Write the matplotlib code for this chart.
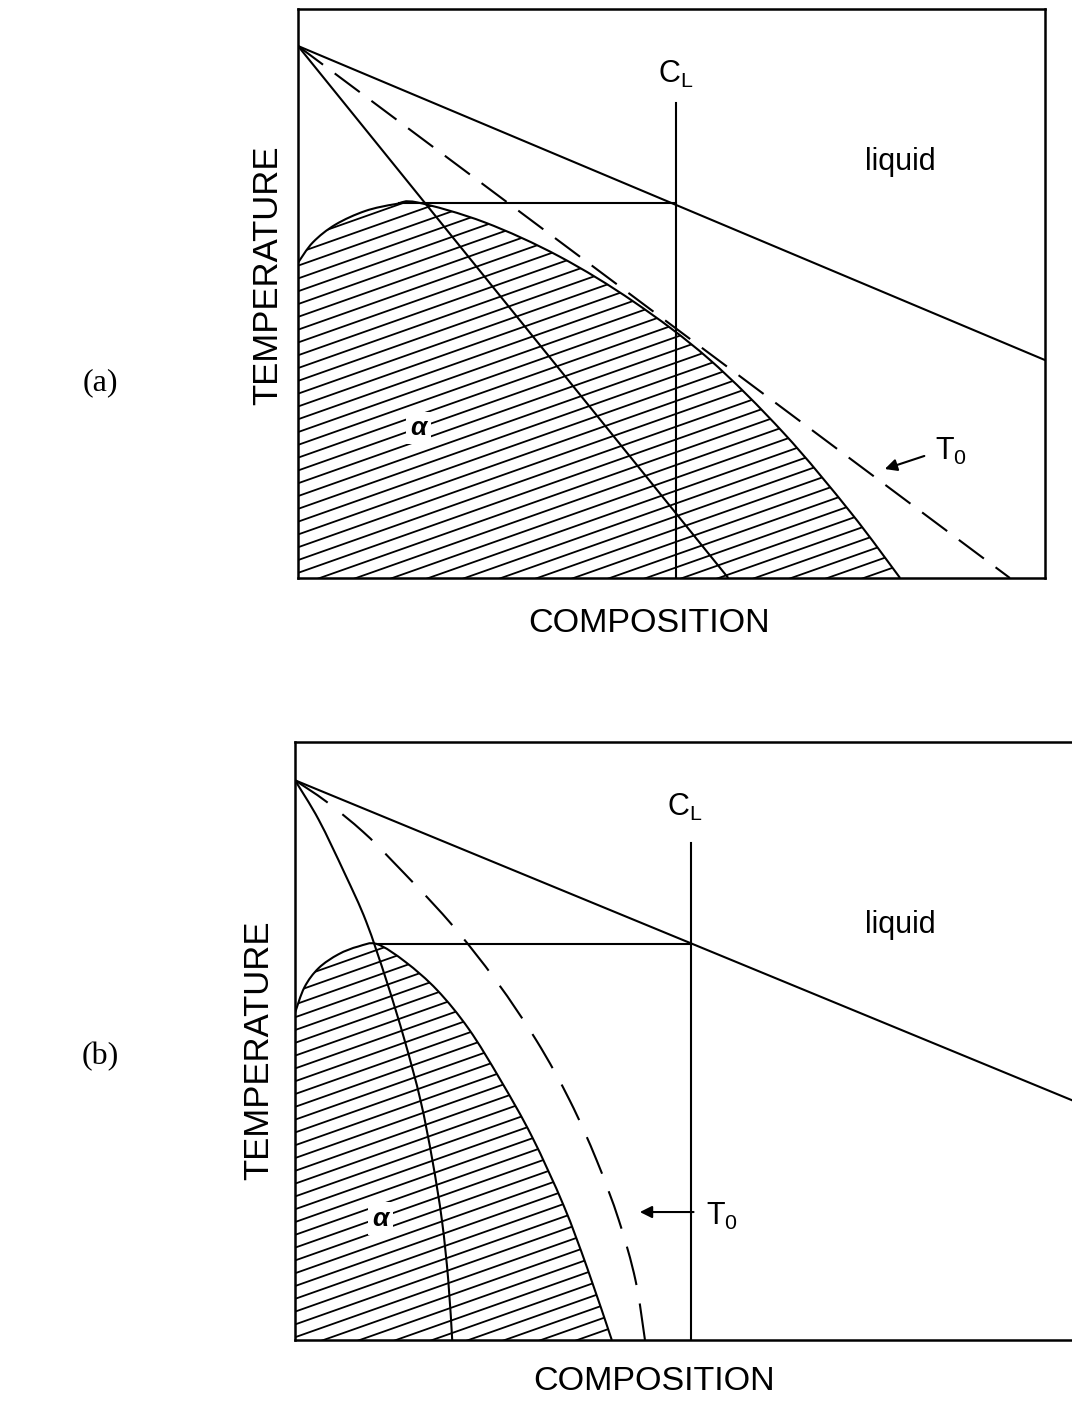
import numpy as np
import matplotlib
matplotlib.use("Agg")
import matplotlib.pyplot as plt
from matplotlib.patches import PathPatch
from matplotlib.path import Path
from matplotlib.collections import LineCollection

plt.rcParams['font.family'] = ['Liberation Sans', 'DejaVu Sans']
plt.rcParams['mathtext.fontset'] = 'custom'
plt.rcParams['mathtext.rm'] = 'Liberation Sans'
plt.rcParams['mathtext.it'] = 'Liberation Sans:italic'

W_PX, H_PX = 1072, 1404

# ---- panel (a) data (composition 0..1, temperature 0..1) ----
a_liquidus_x = [0.0, 1.0]
a_liquidus_y = [0.935, 0.383]
a_solidus_x = [0.0, 0.02, 0.05, 0.09, 0.13, 0.16, 0.25, 0.35, 0.45, 0.55, 0.65, 0.74, 0.806]
a_solidus_y = [0.554, 0.590, 0.621, 0.645, 0.657, 0.660, 0.625, 0.565, 0.485, 0.385,
               0.255, 0.115, 0.0]
a_inner_x = [0.0, 0.576]
a_inner_y = [0.935, 0.0]
a_t0_x = [0.0, 0.953]
a_t0_y = [0.935, 0.0]
a_cl = 0.506
a_cl_top = 0.835
a_tie_x = [0.135, 0.506]
a_tie_y = 0.659

# ---- panel (b) data ----
b_liquidus_x = [0.0, 1.0]
b_liquidus_y = [0.936, 0.392]
b_solidus_x = [0.0, 0.012, 0.03, 0.055, 0.08, 0.104, 0.14, 0.18, 0.22, 0.26, 0.30,
               0.34, 0.37, 0.401]
b_solidus_y = [0.547, 0.590, 0.622, 0.645, 0.658, 0.662, 0.632, 0.585, 0.520, 0.435,
               0.340, 0.225, 0.120, 0.0]
b_inner_x = [0.0, 0.030, 0.063, 0.090, 0.116, 0.139, 0.159, 0.174, 0.186, 0.194, 0.199]
b_inner_y = [0.936, 0.870, 0.780, 0.700, 0.600, 0.500, 0.400, 0.300, 0.200, 0.100, 0.0]
b_t0_x = [0.0, 0.040, 0.086, 0.124, 0.195, 0.255, 0.306, 0.348, 0.382, 0.410, 0.431, 0.443]
b_t0_y = [0.936, 0.900, 0.850, 0.800, 0.700, 0.600, 0.500, 0.400, 0.300, 0.200, 0.100, 0.0]
b_cl = 0.501
b_cl_top = 0.831
b_tie_x = [0.104, 0.501]
b_tie_y = 0.662

LW = 1.5


def smooth_path(xs, ys, close_origin=False):
    # catmull-rom through the read points, drawn as bezier segments
    pts = np.column_stack([xs, ys])
    verts = [pts[0]]
    codes = [Path.MOVETO]
    n = len(pts)
    for i in range(n - 1):
        p0 = pts[i - 1] if i > 0 else pts[i]
        p1 = pts[i]
        p2 = pts[i + 1]
        p3 = pts[i + 2] if i + 2 < n else pts[i + 1]
        verts += [p1 + (p2 - p0) / 6, p2 - (p3 - p1) / 6, p2]
        codes += [Path.CURVE4] * 3
    if close_origin:
        verts += [(0, 0), (0, 0)]
        codes += [Path.LINETO, Path.CLOSEPOLY]
    return Path(verts, codes)


def curve(ax, xs, ys, dashes=None):
    ls = '-' if dashes is None else (0, dashes)
    ax.add_patch(PathPatch(smooth_path(xs, ys), fill=False, ec='black', lw=LW,
                           linestyle=ls, zorder=3, capstyle='butt'))


def hatch(ax, sx, sy, w_px, h_px):
    # shallow diagonal hatch clipped to the alpha field
    clip = PathPatch(smooth_path(sx, sy, close_origin=True), fc='none', ec='none',
                     transform=ax.transData)
    ax.add_patch(clip)
    slope = 0.353 * w_px / h_px
    step = 12.8 / h_px
    segs = [[(0, c), (1, c + slope)] for c in np.arange(-slope, 1.0, step)]
    lc = LineCollection(segs, colors='black', linewidths=1.3, zorder=2)
    ax.add_collection(lc)
    lc.set_clip_path(clip)


def panel(rect, w_px, h_px, liq_x, liq_y, sol_x, sol_y, in_x, in_y, t0_x, t0_y,
          cl, cl_top, tie_x, tie_y, dashes):
    ax = fig.add_axes(rect)
    ax.set_xlim(0, 1)
    ax.set_ylim(0, 1)
    ax.set_xticks([])
    ax.set_yticks([])
    for s in ax.spines.values():
        s.set_linewidth(1.8)
    hatch(ax, sol_x, sol_y, w_px, h_px)
    ax.plot(liq_x, liq_y, color='black', lw=LW, zorder=3)
    curve(ax, sol_x, sol_y)
    curve(ax, in_x, in_y)
    curve(ax, t0_x, t0_y, dashes)
    ax.plot([cl, cl], [0, cl_top], color='black', lw=LW, zorder=3)
    ax.plot(tie_x, [tie_y, tie_y], color='black', lw=LW, zorder=3)
    return ax


fig = plt.figure(figsize=(W_PX / 100, H_PX / 100), dpi=100)

# panel (a): box 298..1045 x 9..578 px
ax1 = panel([298 / W_PX, 1 - 578 / H_PX, 747 / W_PX, 569 / H_PX], 747, 569,
            a_liquidus_x, a_liquidus_y, a_solidus_x, a_solidus_y, a_inner_x, a_inner_y,
            a_t0_x, a_t0_y, a_cl, a_cl_top, a_tie_x, a_tie_y, (15, 7))
ax1.text(0.506, 0.885, r'C$_\mathrm{L}$', fontsize=22, ha='center', va='center')
ax1.text(0.806, 0.731, 'liquid', fontsize=22, ha='center', va='center')
ax1.text(0.161, 0.264, 'α', fontsize=19, style='italic', weight='bold',
         ha='center', va='center', zorder=4, bbox=dict(fc='white', ec='none', pad=3))
ax1.annotate('', xy=(0.782, 0.190), xytext=(0.842, 0.216),
             arrowprops=dict(arrowstyle='-|>', color='black', lw=1.5, mutation_scale=18))
ax1.text(0.853, 0.222, r'T$_\mathrm{0}$', fontsize=22, ha='left', va='center')

# panel (b): box 295..(beyond edge) x 742..1340 px
ax2 = panel([295 / W_PX, 1 - 1340 / H_PX, 790 / W_PX, 598 / H_PX], 790, 598,
            b_liquidus_x, b_liquidus_y, b_solidus_x, b_solidus_y, b_inner_x, b_inner_y,
            b_t0_x, b_t0_y, b_cl, b_cl_top, b_tie_x, b_tie_y, (19, 9))
ax2.text(0.493, 0.89, r'C$_\mathrm{L}$', fontsize=22, ha='center', va='center')
ax2.text(0.766, 0.694, 'liquid', fontsize=22, ha='center', va='center')
ax2.text(0.108, 0.203, 'α', fontsize=19, style='italic', weight='bold',
         ha='center', va='center', zorder=4, bbox=dict(fc='white', ec='none', pad=3))
ax2.annotate('', xy=(0.433, 0.214), xytext=(0.508, 0.214),
             arrowprops=dict(arrowstyle='-|>', color='black', lw=1.5, mutation_scale=18))
ax2.text(0.52, 0.206, r'T$_\mathrm{0}$', fontsize=22, ha='left', va='center')

# outside labels
fig.text(268 / W_PX, 1 - 275 / H_PX, 'TEMPERATURE', rotation=90, fontsize=25,
         ha='center', va='center')
fig.text(649 / W_PX, 1 - 623 / H_PX, 'COMPOSITION', fontsize=24.5, ha='center', va='center')
fig.text(259 / W_PX, 1 - 1050 / H_PX, 'TEMPERATURE', rotation=90, fontsize=25,
         ha='center', va='center')
fig.text(654 / W_PX, 1 - 1381 / H_PX, 'COMPOSITION', fontsize=24.5, ha='center', va='center')
fig.text(100 / W_PX, 1 - 383 / H_PX, '(a)', fontsize=23, family='Liberation Serif',
         ha='center', va='center')
fig.text(100 / W_PX, 1 - 1057 / H_PX, '(b)', fontsize=23, family='Liberation Serif',
         ha='center', va='center')

fig.savefig('out.png', dpi=100)
